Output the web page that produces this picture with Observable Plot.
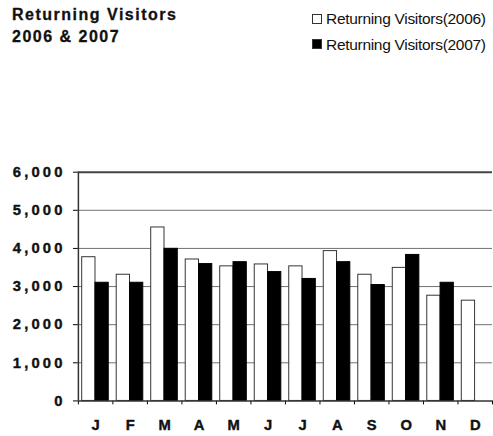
<!DOCTYPE html>
<html>
<head>
<meta charset="utf-8">
<script src="https://cdn.jsdelivr.net/npm/d3@7"></script>
<script src="https://cdn.jsdelivr.net/npm/@observablehq/plot@0.6"></script>
<style>
  html, body { margin: 0; padding: 0; background: #fff; }
  body { width: 493px; height: 436px; overflow: hidden; position: relative; font-family: "Liberation Sans", Arial, sans-serif; }
  .title { position: absolute; left: 12px; font-size: 16px; line-height: 16px; font-weight: bold; letter-spacing: 1.5px; color: #111; white-space: nowrap; -webkit-text-stroke: 0.3px #111; }
  .leg { position: absolute; left: 326px; font-size: 15.5px; line-height: 15.5px; letter-spacing: -0.3px; color: #111; white-space: nowrap; }
  .sw { position: absolute; left: 312px; width: 8px; height: 8px; border: 1px solid #333; }
  #chart { position: absolute; left: 0; top: 150px; width: 493px; overflow: hidden; }
  #chart svg text { font-family: "Liberation Sans", Arial, sans-serif; }
  #chart g[aria-label="y-axis tick label"] text, #chart g[aria-label="y-axis"] text { letter-spacing: 3.2px; stroke: #111; stroke-width: 0.4px; }
</style>
</head>
<body>
<div class="title" style="top:7px">Returning Visitors</div>
<div class="title" style="top:29px">2006 &amp; 2007</div>
<div class="sw" style="top:14px;background:#fff"></div>
<div class="leg" style="top:10.5px">Returning Visitors(2006)</div>
<div class="sw" style="top:39px;background:#000"></div>
<div class="leg" style="top:36.5px">Returning Visitors(2007)</div>
<div id="chart"></div>
<script>
const months = ["J","F","M","A","M","J","J","A","S","O","N","D"];
const series = ["Returning Visitors(2006)", "Returning Visitors(2007)"];
const visitors2006 = [3770, 3310, 4550, 3710, 3530, 3580, 3530, 3930, 3310, 3490, 2760, 2630];
const visitors2007 = [3100, 3100, 3990, 3590, 3640, 3380, 3200, 3640, 3040, 3830, 3100, null];
const yTicks = [0, 1000, 2000, 3000, 4000, 5000, 6000];

const rows2006 = months.map((m, i) => ({i, month: m, value: visitors2006[i]}));
const rows2007 = months.map((m, i) => ({i, month: m, value: visitors2007[i]})).filter(d => d.value != null);

const plot = Plot.plot({
  width: 500,
  height: 286,
  marginTop: 22,
  marginBottom: 32,
  marginLeft: 79,
  marginRight: 1,
  style: {fontFamily: "Liberation Sans, Arial, sans-serif", background: "#fff", overflow: "visible"},
  x: {domain: [0, 12], ticks: d3.range(0, 13), tickFormat: () => "", tickSize: 4, label: null},
  y: {domain: [0, 6000], ticks: yTicks, tickFormat: d3.format(","), tickSize: 5, tickPadding: 8, label: null},
  marks: [
    Plot.ruleY(yTicks.filter(d => d > 0 && d < 6000), {stroke: "#707070", strokeWidth: 1}),
    Plot.ruleY([6000], {stroke: "#444", strokeWidth: 2}),
    Plot.rect(rows2006, {x1: d => d.i + 0.11, x2: d => d.i + 0.495, y1: 0, y2: "value", fill: "#fff", stroke: "#333", strokeWidth: 1}),
    Plot.rect(rows2007, {x1: d => d.i + 0.495, x2: d => d.i + 0.88, y1: 0, y2: "value", fill: "#000", stroke: "#000", strokeWidth: 1}),
    Plot.ruleX([0], {stroke: "#333", strokeWidth: 1.5}),
    Plot.ruleY([0], {stroke: "#333", strokeWidth: 1.5}),
    Plot.text(months, {x: (d, i) => i + 0.5, frameAnchor: "bottom", lineAnchor: "top", dy: 19, text: d => d, fontSize: 15, fontWeight: "bold", fill: "#111", stroke: "#111", strokeWidth: 0.4})
  ]
});
plot.querySelectorAll('g[aria-label="y-axis"] text, g[aria-label="y-axis tick label"] text').forEach(t => {
  t.setAttribute("font-weight", "bold");
  t.setAttribute("font-size", "15");
  t.setAttribute("fill", "#111");
});
plot.querySelectorAll('g[aria-label="y-axis"], g[aria-label="y-axis tick label"]').forEach(g => {
  g.setAttribute("font-weight", "bold");
  g.setAttribute("font-size", "15");
});
document.getElementById("chart").appendChild(plot);
</script>
</body>
</html>
